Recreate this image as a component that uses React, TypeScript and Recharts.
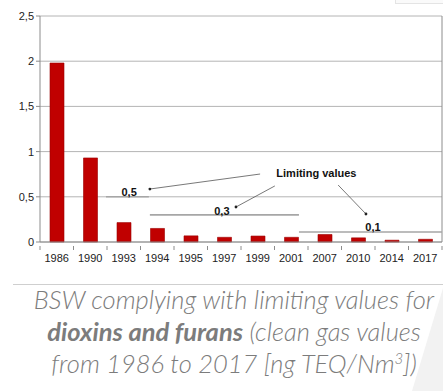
import { Bar, BarChart, CartesianGrid, ReferenceDot, ReferenceLine, XAxis, YAxis } from "recharts";

const years = ["1986", "1990", "1993", "1994", "1995", "1997", "1999", "2001", "2007", "2010", "2014", "2017"];
const cleanGas = [1.98, 0.93, 0.215, 0.15, 0.068, 0.052, 0.066, 0.052, 0.083, 0.046, 0.02, 0.03];
const yTicks = [0, 0.5, 1, 1.5, 2, 2.5];

// limiting values drawn as segments: [from, to, level, label, labelX, labelY] on a 0..12 position scale
const limitSegments: [number, number, number, string, number, number][] = [
  [1.97, 3.25, 0.5, "0,5", 2.66, 0.55],
  [3.28, 7.73, 0.3, "0,3", 5.43, 0.34],
  [7.73, 12, 0.11, "0,1", 9.94, 0.166],
];
// arrows from the "Limiting values" note: [x1, y1, x2, y2]
const arrows: [number, number, number, number][] = [
  [6.57, 0.752, 3.28, 0.586],
  [7.01, 0.62, 5.85, 0.387],
  [8.9, 0.63, 9.73, 0.31],
];

const data = years.map((year, i) => ({ year, value: cleanGas[i] }));

const AXIS = "#8c8c8c";
const GRID = "#b4b4b4";

function YearTick(props: any) {
  const { x, y, payload, index } = props;
  const half = payload?.offset || 16.75;
  return (
    <g>
      <line x1={x - half} y1={y - 4} x2={x - half} y2={y} stroke={AXIS} />
      {index === years.length - 1 && <line x1={x + half} y1={y - 4} x2={x + half} y2={y} stroke={AXIS} />}
      <text x={x} y={y + 4} dy="0.71em" textAnchor="middle" fontSize={11} fill="#222" fontFamily="'Liberation Sans', Arial, sans-serif">
        {payload.value}
      </text>
    </g>
  );
}

const boldLabel = {
  position: "center" as const,
  fontSize: 11,
  fontWeight: 700,
  fill: "#111",
  fontFamily: "'Liberation Sans', Arial, sans-serif",
};

export default function App() {
  return (
    <div style={{ position: "absolute", left: 0, top: 0, width: 443, height: 391, background: "#fff", overflow: "hidden" }}>
      <div style={{ position: "absolute", left: 395, top: -2, width: 48, height: 4, border: "1px solid #e4e4e4", background: "#fafafa" }} />
      <BarChart
        width={443}
        height={268}
        data={data}
        margin={{ top: 16, right: 1, left: 0, bottom: 0 }}
        barSize={14}
        style={{ fontFamily: "'Liberation Sans', Arial, sans-serif" }}
      >
        <CartesianGrid stroke={GRID} vertical={false} />
        <XAxis
          dataKey="year"
          height={26}
          stroke={AXIS}
          tickLine={false}
          tick={<YearTick />}
          interval={0}
        />
        <XAxis
          xAxisId="pos"
          type="number"
          dataKey="none"
          domain={[0, 12]}
          allowDataOverflow
          orientation="top"
          height={0}
          tick={false}
          tickLine={false}
          axisLine={false}
        />
        <YAxis
          width={40}
          domain={[0, 2.5]}
          ticks={yTicks}
          stroke={AXIS}
          tickSize={4}
          tickMargin={2}
          tick={{ fontSize: 11, fill: "#222" }}
          tickFormatter={(v: number) => String(v).replace(".", ",")}
        />
        <ReferenceLine xAxisId="pos" x={12} stroke={AXIS} ifOverflow="visible" />
        <Bar dataKey="value" fill="#c00000" stroke="#9c0000" strokeWidth={0.6} isAnimationActive={false} />
        {limitSegments.map(([a, b, lv]) => (
          <ReferenceLine
            key={"seg" + lv}
            xAxisId="pos"
            segment={[{ x: a, y: lv }, { x: b, y: lv }]}
            stroke="#a6a6a6"
            strokeWidth={1.6}
            ifOverflow="visible"
          />
        ))}
        {limitSegments.map(([, , lv, text, lx, ly]) => (
          <ReferenceDot key={"lab" + lv} xAxisId="pos" x={lx} y={ly} r={0} stroke="none" label={{ ...boldLabel, value: text }} />
        ))}
        {arrows.map(([x1, y1, x2, y2], i) => (
          <ReferenceLine
            key={"arr" + i}
            xAxisId="pos"
            segment={[{ x: x1, y: y1 }, { x: x2, y: y2 }]}
            stroke="#555"
            strokeWidth={0.8}
          />
        ))}
        {arrows.map(([, , x2, y2], i) => (
          <ReferenceDot key={"head" + i} xAxisId="pos" x={x2} y={y2} r={1.4} fill="#222" stroke="none" />
        ))}
        <ReferenceDot xAxisId="pos" x={8.25} y={0.765} r={0} stroke="none" label={{ ...boldLabel, value: "Limiting values" }} />
      </BarChart>
      <div style={{ position: "absolute", left: 13, top: 284, width: 430, height: 1, background: "#cfcfcf" }} />
      <svg style={{ position: "absolute", left: 0, top: 0 }} width={443} height={391}>
        <polygon points="443,288 412,391 443,391" fill="#f2f2f2" />
      </svg>
      <div
        style={{
          position: "absolute",
          left: 0,
          top: 283,
          width: 468,
          textAlign: "center",
          fontFamily: "Lato, 'Open Sans', sans-serif",
          fontStyle: "italic",
          fontWeight: 300,
          fontSize: 25.5,
          lineHeight: "32px",
          color: "#7c7c7c",
          whiteSpace: "nowrap",
        }}
      >
        BSW complying with limiting values for
        <br />
        <b style={{ fontWeight: 700 }}>dioxins and furans</b> (clean gas values
        <br />
        from 1986 to 2017 [ng TEQ/Nm<sup style={{ fontSize: 15, lineHeight: 0 }}>3</sup>])
      </div>
    </div>
  );
}
